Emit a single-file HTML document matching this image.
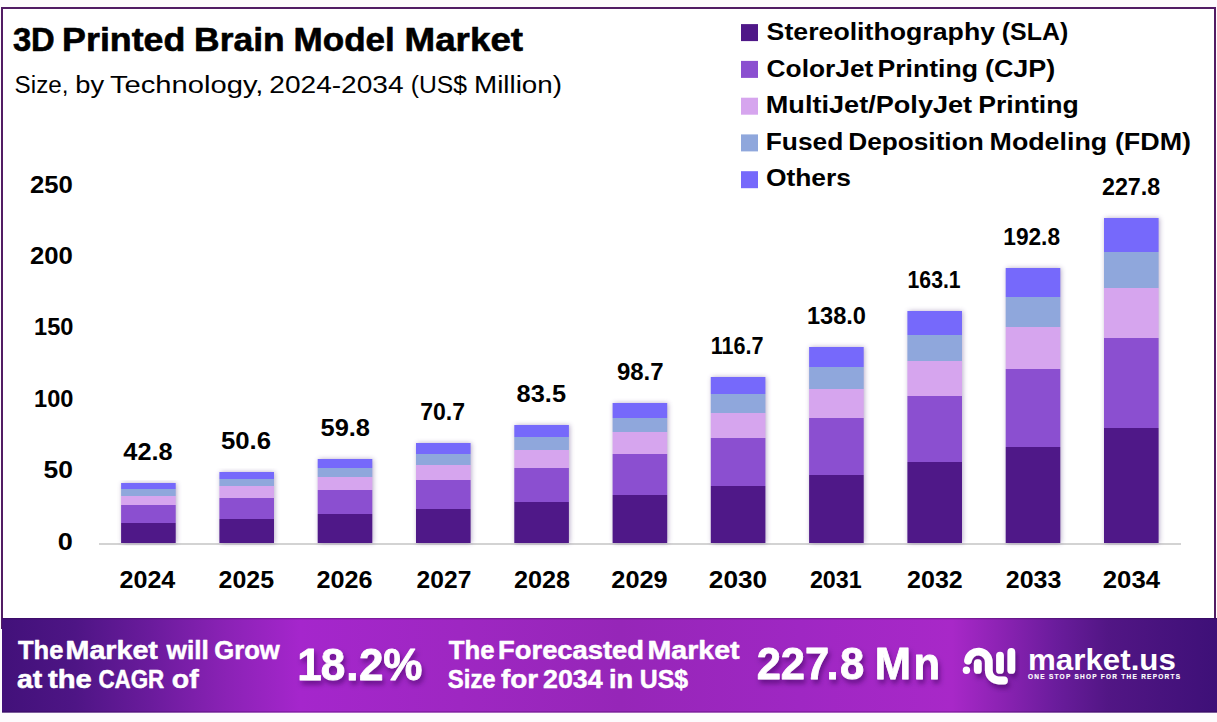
<!DOCTYPE html>
<html><head><meta charset="utf-8"><style>
*{margin:0;padding:0}
html,body{width:1217px;height:722px;overflow:hidden;background:#fff}
svg{display:block}
</style></head><body>
<svg width="1217" height="722" viewBox="0 0 1217 722" font-family="'Liberation Sans', Arial, sans-serif">
<defs>
<linearGradient id="bg" gradientUnits="userSpaceOnUse" x1="2" y1="0" x2="1217" y2="0">
<stop offset="0" stop-color="#42117a"/>
<stop offset="0.0601" stop-color="#4e1585"/>
<stop offset="0.1218" stop-color="#6a1b9c"/>
<stop offset="0.1835" stop-color="#8a22b5"/>
<stop offset="0.2453" stop-color="#a526cc"/>
<stop offset="0.3770" stop-color="#9e27c2"/>
<stop offset="0.5086" stop-color="#9626b8"/>
<stop offset="0.6568" stop-color="#9f27c3"/>
<stop offset="0.7819" stop-color="#a828c8"/>
<stop offset="0.8247" stop-color="#8a22b2"/>
<stop offset="0.8675" stop-color="#6a1c9c"/>
<stop offset="0.9103" stop-color="#521685"/>
<stop offset="0.9531" stop-color="#48137e"/>
<stop offset="1.0000" stop-color="#3e1078"/>
</linearGradient>
<filter id="bs" x="-20%" y="-5%" width="140%" height="110%"><feGaussianBlur stdDeviation="2.6"/><feOffset dx="1" dy="0"/><feComponentTransfer><feFuncA type="linear" slope="0.4"/></feComponentTransfer></filter>
<filter id="ts" x="-10%" y="-20%" width="130%" height="160%"><feGaussianBlur in="SourceAlpha" stdDeviation="2.5"/><feOffset dx="2" dy="4" result="o"/><feFlood flood-color="#3a0a5a" flood-opacity="0.55"/><feComposite in2="o" operator="in"/><feMerge><feMergeNode/><feMergeNode in="SourceGraphic"/></feMerge></filter>
</defs>
<rect x="0" y="0" width="1217" height="722" fill="#fdfbfd"/>
<rect x="2" y="8" width="1213" height="620" fill="#fff" stroke="#521c64" stroke-width="2"/>
<rect x="99" y="543" width="1082" height="2" fill="#d3d3d3"/>
<rect x="121.1" y="483" width="54.6" height="60" fill="#50307a" filter="url(#bs)"/><rect x="121.1" y="483" width="54.6" height="6" fill="#7669fb"/><rect x="121.1" y="489" width="54.6" height="7" fill="#8fa7dc"/><rect x="121.1" y="496" width="54.6" height="9" fill="#d6a5ee"/><rect x="121.1" y="505" width="54.6" height="18" fill="#8b4fd0"/><rect x="121.1" y="523" width="54.6" height="20" fill="#4f1888"/><rect x="219.4" y="472" width="54.6" height="71" fill="#50307a" filter="url(#bs)"/><rect x="219.4" y="472" width="54.6" height="7" fill="#7669fb"/><rect x="219.4" y="479" width="54.6" height="7" fill="#8fa7dc"/><rect x="219.4" y="486" width="54.6" height="12" fill="#d6a5ee"/><rect x="219.4" y="498" width="54.6" height="21" fill="#8b4fd0"/><rect x="219.4" y="519" width="54.6" height="24" fill="#4f1888"/><rect x="317.7" y="459" width="54.6" height="84" fill="#50307a" filter="url(#bs)"/><rect x="317.7" y="459" width="54.6" height="9" fill="#7669fb"/><rect x="317.7" y="468" width="54.6" height="9" fill="#8fa7dc"/><rect x="317.7" y="477" width="54.6" height="13" fill="#d6a5ee"/><rect x="317.7" y="490" width="54.6" height="24" fill="#8b4fd0"/><rect x="317.7" y="514" width="54.6" height="29" fill="#4f1888"/><rect x="416.0" y="443" width="54.6" height="100" fill="#50307a" filter="url(#bs)"/><rect x="416.0" y="443" width="54.6" height="11" fill="#7669fb"/><rect x="416.0" y="454" width="54.6" height="11" fill="#8fa7dc"/><rect x="416.0" y="465" width="54.6" height="15" fill="#d6a5ee"/><rect x="416.0" y="480" width="54.6" height="29" fill="#8b4fd0"/><rect x="416.0" y="509" width="54.6" height="34" fill="#4f1888"/><rect x="514.3" y="425" width="54.6" height="118" fill="#50307a" filter="url(#bs)"/><rect x="514.3" y="425" width="54.6" height="12" fill="#7669fb"/><rect x="514.3" y="437" width="54.6" height="13" fill="#8fa7dc"/><rect x="514.3" y="450" width="54.6" height="18" fill="#d6a5ee"/><rect x="514.3" y="468" width="54.6" height="34" fill="#8b4fd0"/><rect x="514.3" y="502" width="54.6" height="41" fill="#4f1888"/><rect x="612.6" y="403" width="54.6" height="140" fill="#50307a" filter="url(#bs)"/><rect x="612.6" y="403" width="54.6" height="15" fill="#7669fb"/><rect x="612.6" y="418" width="54.6" height="14" fill="#8fa7dc"/><rect x="612.6" y="432" width="54.6" height="22" fill="#d6a5ee"/><rect x="612.6" y="454" width="54.6" height="41" fill="#8b4fd0"/><rect x="612.6" y="495" width="54.6" height="48" fill="#4f1888"/><rect x="710.8" y="377" width="54.6" height="166" fill="#50307a" filter="url(#bs)"/><rect x="710.8" y="377" width="54.6" height="17" fill="#7669fb"/><rect x="710.8" y="394" width="54.6" height="19" fill="#8fa7dc"/><rect x="710.8" y="413" width="54.6" height="25" fill="#d6a5ee"/><rect x="710.8" y="438" width="54.6" height="48" fill="#8b4fd0"/><rect x="710.8" y="486" width="54.6" height="57" fill="#4f1888"/><rect x="809.1" y="347" width="54.6" height="196" fill="#50307a" filter="url(#bs)"/><rect x="809.1" y="347" width="54.6" height="20" fill="#7669fb"/><rect x="809.1" y="367" width="54.6" height="22" fill="#8fa7dc"/><rect x="809.1" y="389" width="54.6" height="29" fill="#d6a5ee"/><rect x="809.1" y="418" width="54.6" height="57" fill="#8b4fd0"/><rect x="809.1" y="475" width="54.6" height="68" fill="#4f1888"/><rect x="907.4" y="311" width="54.6" height="232" fill="#50307a" filter="url(#bs)"/><rect x="907.4" y="311" width="54.6" height="24" fill="#7669fb"/><rect x="907.4" y="335" width="54.6" height="26" fill="#8fa7dc"/><rect x="907.4" y="361" width="54.6" height="35" fill="#d6a5ee"/><rect x="907.4" y="396" width="54.6" height="66" fill="#8b4fd0"/><rect x="907.4" y="462" width="54.6" height="81" fill="#4f1888"/><rect x="1005.7" y="268" width="54.6" height="275" fill="#50307a" filter="url(#bs)"/><rect x="1005.7" y="268" width="54.6" height="29" fill="#7669fb"/><rect x="1005.7" y="297" width="54.6" height="30" fill="#8fa7dc"/><rect x="1005.7" y="327" width="54.6" height="42" fill="#d6a5ee"/><rect x="1005.7" y="369" width="54.6" height="78" fill="#8b4fd0"/><rect x="1005.7" y="447" width="54.6" height="96" fill="#4f1888"/><rect x="1104.0" y="218" width="54.6" height="325" fill="#50307a" filter="url(#bs)"/><rect x="1104.0" y="218" width="54.6" height="34" fill="#7669fb"/><rect x="1104.0" y="252" width="54.6" height="36" fill="#8fa7dc"/><rect x="1104.0" y="288" width="54.6" height="50" fill="#d6a5ee"/><rect x="1104.0" y="338" width="54.6" height="90" fill="#8b4fd0"/><rect x="1104.0" y="428" width="54.6" height="115" fill="#4f1888"/><rect x="741" y="24.1" width="17" height="17" fill="#4f1888"/><rect x="741" y="60.9" width="17" height="17" fill="#8b4fd0"/><rect x="741" y="97.7" width="17" height="17" fill="#d6a5ee"/><rect x="741" y="134.4" width="17" height="17" fill="#8fa7dc"/><rect x="741" y="171.2" width="17" height="17" fill="#7669fb"/>
<rect x="2" y="618" width="1215" height="94.6" fill="url(#bg)"/>
<rect x="2" y="618" width="1215" height="1.3" fill="#2a0040" fill-opacity="0.3"/>
<rect x="2" y="711.3" width="1215" height="1.3" fill="#2a0040" fill-opacity="0.3"/>
<g fill="none" stroke="#fff" stroke-width="7.8" stroke-linecap="round" filter="url(#ts)">
<path d="M968,660.6 A10.45,10.45 0 0 1 988.8,662.35 L988.8,670.5 A10,10 0 0 0 998.8,680.5 L1004,680.5"/>
<line x1="977.8" y1="663.2" x2="977.8" y2="669.9"/>
<line x1="1000" y1="655.6" x2="1000" y2="669.9"/>
<line x1="1011.3" y1="651.9" x2="1011.3" y2="669.9"/>
</g>
<circle cx="966.4" cy="670.2" r="3.7" fill="#fff"/>
<text id="title" y="51.00" font-size="33.70" font-weight="bold" fill="#000"  stroke="#000" stroke-width="0.6" stroke-linejoin="round"><tspan id="title_0" x="12.90" textLength="41.88" lengthAdjust="spacingAndGlyphs">3D</tspan> <tspan id="title_1" x="62.10" textLength="123.26" lengthAdjust="spacingAndGlyphs">Printed</tspan> <tspan id="title_2" x="194.10" textLength="90.52" lengthAdjust="spacingAndGlyphs">Brain</tspan> <tspan id="title_3" x="293.50" textLength="101.31" lengthAdjust="spacingAndGlyphs">Model</tspan> <tspan id="title_4" x="404.50" textLength="118.61" lengthAdjust="spacingAndGlyphs">Market</tspan></text>
<text id="sub" y="92.70" font-size="24.70" font-weight="normal" fill="#000" ><tspan id="sub_0" x="14.60" textLength="53.89" lengthAdjust="spacingAndGlyphs">Size,</tspan> <tspan id="sub_1" x="75.30" textLength="28.88" lengthAdjust="spacingAndGlyphs">by</tspan> <tspan id="sub_2" x="109.90" textLength="153.52" lengthAdjust="spacingAndGlyphs">Technology,</tspan> <tspan id="sub_3" x="269.30" textLength="134.26" lengthAdjust="spacingAndGlyphs">2024-2034</tspan> <tspan id="sub_4" x="410.70" textLength="56.25" lengthAdjust="spacingAndGlyphs">(US$</tspan> <tspan id="sub_5" x="474.00" textLength="87.99" lengthAdjust="spacingAndGlyphs">Million)</tspan></text>
<text id="leg0" y="40.30" font-size="24.70" font-weight="bold" fill="#000" ><tspan id="leg0_0" x="766.60" textLength="228.45" lengthAdjust="spacingAndGlyphs">Stereolithography</tspan> <tspan id="leg0_1" x="1001.80" textLength="66.43" lengthAdjust="spacingAndGlyphs">(SLA)</tspan></text>
<text id="leg1" y="76.80" font-size="24.70" font-weight="bold" fill="#000" ><tspan id="leg1_0" x="766.60" textLength="106.74" lengthAdjust="spacingAndGlyphs">ColorJet</tspan> <tspan id="leg1_1" x="877.40" textLength="100.67" lengthAdjust="spacingAndGlyphs">Printing</tspan> <tspan id="leg1_2" x="984.90" textLength="70.47" lengthAdjust="spacingAndGlyphs">(CJP)</tspan></text>
<text id="leg2" y="113.30" font-size="24.70" font-weight="bold" fill="#000" ><tspan id="leg2_0" x="765.80" textLength="206.35" lengthAdjust="spacingAndGlyphs">MultiJet/PolyJet</tspan> <tspan id="leg2_1" x="978.20" textLength="100.47" lengthAdjust="spacingAndGlyphs">Printing</tspan></text>
<text id="leg3" y="149.80" font-size="24.70" font-weight="bold" fill="#000" ><tspan id="leg3_0" x="765.80" textLength="77.50" lengthAdjust="spacingAndGlyphs">Fused</tspan> <tspan id="leg3_1" x="848.30" textLength="135.36" lengthAdjust="spacingAndGlyphs">Deposition</tspan> <tspan id="leg3_2" x="989.60" textLength="117.54" lengthAdjust="spacingAndGlyphs">Modeling</tspan> <tspan id="leg3_3" x="1114.90" textLength="76.12" lengthAdjust="spacingAndGlyphs">(FDM)</tspan></text>
<text id="leg4" y="186.30" font-size="24.70" font-weight="bold" fill="#000" ><tspan id="leg4_0" x="765.90" textLength="84.98" lengthAdjust="spacingAndGlyphs">Others</tspan></text>
<text id="y0" x="72.90" y="549.90" font-size="23.70" font-weight="bold" text-anchor="end" fill="#000" textLength="15.09" lengthAdjust="spacingAndGlyphs" >0</text>
<text id="y1" x="72.90" y="478.42" font-size="23.70" font-weight="bold" text-anchor="end" fill="#000" textLength="29.46" lengthAdjust="spacingAndGlyphs" >50</text>
<text id="y2" x="73.50" y="406.94" font-size="23.70" font-weight="bold" text-anchor="end" fill="#000" textLength="39.43" lengthAdjust="spacingAndGlyphs" >100</text>
<text id="y3" x="73.50" y="335.46" font-size="23.70" font-weight="bold" text-anchor="end" fill="#000" textLength="39.43" lengthAdjust="spacingAndGlyphs" >150</text>
<text id="y4" x="72.90" y="263.98" font-size="23.70" font-weight="bold" text-anchor="end" fill="#000" textLength="42.93" lengthAdjust="spacingAndGlyphs" >200</text>
<text id="y5" x="72.90" y="192.50" font-size="23.70" font-weight="bold" text-anchor="end" fill="#000" textLength="42.93" lengthAdjust="spacingAndGlyphs" >250</text>
<text id="x0" x="147.40" y="588.10" font-size="23.70" font-weight="bold" text-anchor="middle" fill="#000" textLength="55.90" lengthAdjust="spacingAndGlyphs" >2024</text>
<text id="v0" x="148.00" y="460.10" font-size="23.70" font-weight="bold" text-anchor="middle" fill="#000" textLength="49.31" lengthAdjust="spacingAndGlyphs" >42.8</text>
<text id="x1" x="246.39" y="588.10" font-size="23.70" font-weight="bold" text-anchor="middle" fill="#000" textLength="55.50" lengthAdjust="spacingAndGlyphs" >2025</text>
<text id="v1" x="245.99" y="449.10" font-size="23.70" font-weight="bold" text-anchor="middle" fill="#000" textLength="50.11" lengthAdjust="spacingAndGlyphs" >50.6</text>
<text id="x2" x="344.58" y="588.10" font-size="23.70" font-weight="bold" text-anchor="middle" fill="#000" textLength="56.10" lengthAdjust="spacingAndGlyphs" >2026</text>
<text id="v2" x="345.28" y="436.00" font-size="23.70" font-weight="bold" text-anchor="middle" fill="#000" textLength="49.51" lengthAdjust="spacingAndGlyphs" >59.8</text>
<text id="x3" x="443.97" y="588.10" font-size="23.70" font-weight="bold" text-anchor="middle" fill="#000" textLength="54.70" lengthAdjust="spacingAndGlyphs" >2027</text>
<text id="v3" x="442.62" y="420.00" font-size="23.70" font-weight="bold" text-anchor="middle" fill="#000" textLength="44.81" lengthAdjust="spacingAndGlyphs" >70.7</text>
<text id="x4" x="541.96" y="588.10" font-size="23.70" font-weight="bold" text-anchor="middle" fill="#000" textLength="56.10" lengthAdjust="spacingAndGlyphs" >2028</text>
<text id="v4" x="541.31" y="402.30" font-size="23.70" font-weight="bold" text-anchor="middle" fill="#000" textLength="49.41" lengthAdjust="spacingAndGlyphs" >83.5</text>
<text id="x5" x="639.50" y="588.10" font-size="23.70" font-weight="bold" text-anchor="middle" fill="#000" textLength="56.40" lengthAdjust="spacingAndGlyphs" >2029</text>
<text id="v5" x="640.30" y="380.20" font-size="23.70" font-weight="bold" text-anchor="middle" fill="#000" textLength="46.61" lengthAdjust="spacingAndGlyphs" >98.7</text>
<text id="x6" x="738.04" y="588.10" font-size="23.70" font-weight="bold" text-anchor="middle" fill="#000" textLength="58.30" lengthAdjust="spacingAndGlyphs" >2030</text>
<text id="v6" x="737.19" y="354.00" font-size="23.70" font-weight="bold" text-anchor="middle" fill="#000" textLength="52.88" lengthAdjust="spacingAndGlyphs" >116.7</text>
<text id="x7" x="835.83" y="588.10" font-size="23.70" font-weight="bold" text-anchor="middle" fill="#000" textLength="51.90" lengthAdjust="spacingAndGlyphs" >2031</text>
<text id="v7" x="836.43" y="324.30" font-size="23.70" font-weight="bold" text-anchor="middle" fill="#000" textLength="59.08" lengthAdjust="spacingAndGlyphs" >138.0</text>
<text id="x8" x="934.92" y="588.10" font-size="23.70" font-weight="bold" text-anchor="middle" fill="#000" textLength="55.70" lengthAdjust="spacingAndGlyphs" >2032</text>
<text id="v8" x="934.07" y="288.10" font-size="23.70" font-weight="bold" text-anchor="middle" fill="#000" textLength="52.98" lengthAdjust="spacingAndGlyphs" >163.1</text>
<text id="x9" x="1033.56" y="588.10" font-size="23.70" font-weight="bold" text-anchor="middle" fill="#000" textLength="55.60" lengthAdjust="spacingAndGlyphs" >2033</text>
<text id="v9" x="1031.66" y="245.10" font-size="23.70" font-weight="bold" text-anchor="middle" fill="#000" textLength="56.78" lengthAdjust="spacingAndGlyphs" >192.8</text>
<text id="x10" x="1131.40" y="588.10" font-size="23.70" font-weight="bold" text-anchor="middle" fill="#000" textLength="57.30" lengthAdjust="spacingAndGlyphs" >2034</text>
<text id="v10" x="1131.10" y="195.00" font-size="23.70" font-weight="bold" text-anchor="middle" fill="#000" textLength="58.28" lengthAdjust="spacingAndGlyphs" >227.8</text>
<text id="b1a" y="659.00" font-size="25.50" font-weight="bold" fill="#fff"  stroke="#fff" stroke-width="0.5" stroke-linejoin="round"><tspan id="b1a_0" x="18.00" textLength="45.34" lengthAdjust="spacingAndGlyphs">The</tspan> <tspan id="b1a_1" x="65.50" textLength="92.40" lengthAdjust="spacingAndGlyphs">Market</tspan> <tspan id="b1a_2" x="166.50" textLength="42.29" lengthAdjust="spacingAndGlyphs">will</tspan> <tspan id="b1a_3" x="214.20" textLength="65.57" lengthAdjust="spacingAndGlyphs">Grow</tspan></text>
<text id="b1b" y="688.20" font-size="25.50" font-weight="bold" fill="#fff"  stroke="#fff" stroke-width="0.5" stroke-linejoin="round"><tspan id="b1b_0" x="17.00" textLength="25.29" lengthAdjust="spacingAndGlyphs">at</tspan> <tspan id="b1b_1" x="48.00" textLength="43.85" lengthAdjust="spacingAndGlyphs">the</tspan> <tspan id="b1b_2" x="98.40" textLength="65.89" lengthAdjust="spacingAndGlyphs">CAGR</tspan> <tspan id="b1b_3" x="171.80" textLength="26.88" lengthAdjust="spacingAndGlyphs">of</tspan></text>
<text id="b3a" y="659.00" font-size="25.50" font-weight="bold" fill="#fff"  stroke="#fff" stroke-width="0.5" stroke-linejoin="round"><tspan id="b3a_0" x="448.80" textLength="45.74" lengthAdjust="spacingAndGlyphs">The</tspan> <tspan id="b3a_1" x="498.10" textLength="145.86" lengthAdjust="spacingAndGlyphs">Forecasted</tspan> <tspan id="b3a_2" x="647.60" textLength="92.00" lengthAdjust="spacingAndGlyphs">Market</tspan></text>
<text id="b3b" y="688.20" font-size="25.50" font-weight="bold" fill="#fff"  stroke="#fff" stroke-width="0.5" stroke-linejoin="round"><tspan id="b3b_0" x="447.80" textLength="47.83" lengthAdjust="spacingAndGlyphs">Size</tspan> <tspan id="b3b_1" x="500.90" textLength="37.20" lengthAdjust="spacingAndGlyphs">for</tspan> <tspan id="b3b_2" x="543.10" textLength="59.53" lengthAdjust="spacingAndGlyphs">2034</tspan> <tspan id="b3b_3" x="608.90" textLength="24.27" lengthAdjust="spacingAndGlyphs">in</tspan> <tspan id="b3b_4" x="639.80" textLength="48.21" lengthAdjust="spacingAndGlyphs">US$</tspan></text>
<text id="b5" x="1028.00" y="670.00" font-size="30.00" font-weight="bold" text-anchor="start" fill="#fff" textLength="147.85" lengthAdjust="spacingAndGlyphs" >market.us</text>
<text id="b6" x="1028.00" y="679.40" font-size="6.50" font-weight="bold" text-anchor="start" fill="#fff" textLength="152.08" lengthAdjust="spacing"  stroke="#fff" stroke-width="0.15" stroke-linejoin="round">ONE STOP SHOP FOR THE REPORTS</text>
<text id="cagr" x="297.19 320.84 346.21 358.93 383.27" y="679.9" font-size="44" font-weight="bold" fill="#fff" stroke="#fff" stroke-width="0.8" stroke-linejoin="round" filter="url(#ts)">18.2%</text><text id="fval" x="756.77 780.87 804.97 826.58 839.93 844.93 874.63 913.38" y="679.3" font-size="43.5" font-weight="bold" fill="#fff" stroke="#fff" stroke-width="0.8" stroke-linejoin="round" filter="url(#ts)">227.8 Mn</text>
</svg>
</body></html>
